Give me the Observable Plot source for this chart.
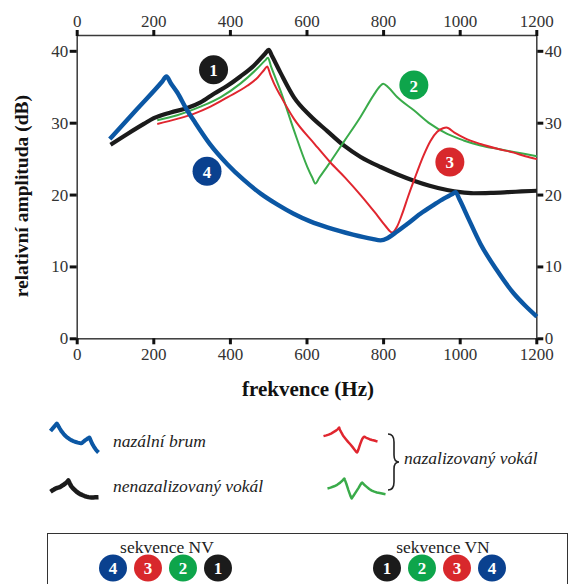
<!DOCTYPE html>
<html>
<head>
<meta charset="utf-8">
<script src="https://cdn.jsdelivr.net/npm/d3@7"></script>
<script src="https://cdn.jsdelivr.net/npm/@observablehq/plot@0.6"></script>
<style>
  html, body { margin: 0; padding: 0; background: #fff; overflow: hidden; }
  #page { position: relative; width: 573px; height: 584px; font-family: "Liberation Serif", "Times New Roman", serif; color: #222; }
  #page svg, #page svg text { font-family: "Liberation Serif", "Times New Roman", serif !important; }
  .abs { position: absolute; }
  .legend-text { font-style: italic; font-size: 17.5px; color: #222; white-space: nowrap; line-height: 1; }
  #seqbox { position: absolute; left: 47px; top: 533px; width: 521px; height: 70px; border: 1.5px solid #333; box-sizing: border-box; }
  .seq-title { position: absolute; font-size: 17.5px; color: #222; transform: translateX(-50%); white-space: nowrap; line-height: 1; }
  .badge { position: absolute; width: 28px; height: 27px; border-radius: 50%; color: #fff; font-weight: bold; font-size: 17px; line-height: 27px; text-align: center; transform: translate(-50%, -50%); }
</style>
</head>
<body>
<div id="page"></div>
<script>
// Spectral envelopes: [frequency (Hz), relative amplitude (dB)]
const nasalMurmur = [
  [85, 27.8], [157, 32.0], [222, 35.8], [233, 36.5], [244, 35.6], [261, 34.3],
  [287, 31.8], [304, 30.4], [345, 27.2], [392, 24.3], [435, 22.1], [479, 20.2],
  [522, 18.7], [565, 17.4], [610, 16.3], [653, 15.5], [720, 14.5], [770, 13.9],
  [792, 13.7], [810, 14.0], [827, 14.6], [860, 15.9], [896, 17.4], [930, 18.6],
  [957, 19.5], [978, 20.1], [988, 20.4], [998, 19.4], [1020, 16.9], [1053, 13.2],
  [1095, 9.6], [1140, 6.3], [1170, 4.6], [1200, 3.1]
];
const nonNasalVowel = [
  [87, 27.0], [131, 28.5], [174, 29.9], [200, 30.7], [244, 31.5], [287, 32.1],
  [322, 32.9], [357, 34.1], [392, 35.2], [426, 36.5], [461, 38.0], [491, 39.7],
  [500, 40.2], [509, 39.3], [531, 37.0], [566, 33.6], [609, 31.0], [653, 28.9],
  [696, 26.9], [740, 25.3], [792, 23.9], [835, 22.9], [879, 22.0], [920, 21.3],
  [966, 20.7], [1000, 20.4], [1035, 20.25], [1080, 20.3], [1123, 20.4],
  [1160, 20.5], [1200, 20.6]
];
const nasalVowelA = [
  [209, 29.9], [261, 30.6], [304, 31.3], [348, 32.3], [392, 33.6], [444, 35.2],
  [472, 36.4], [488, 37.4], [496, 37.9], [504, 36.8], [515, 35.4], [531, 33.8],
  [566, 30.6], [620, 27.1], [660, 24.6], [700, 22.4], [740, 20.0], [780, 17.4],
  [805, 15.7], [822, 14.8], [835, 15.6], [848, 17.3], [864, 19.8], [879, 22.0],
  [905, 25.6], [922, 27.5], [940, 28.8], [955, 29.3], [964, 29.4], [985, 28.7],
  [1009, 28.0], [1053, 27.1], [1100, 26.4], [1140, 25.9], [1170, 25.4], [1200, 25.0]
];
const nasalVowelB = [
  [209, 30.4], [261, 31.1], [322, 32.3], [374, 33.6], [426, 35.5], [470, 37.6],
  [490, 38.7], [498, 39.1], [506, 37.9], [531, 34.5], [566, 29.0], [601, 23.9],
  [614, 22.4], [622, 21.6], [632, 22.4], [653, 24.0], [696, 27.4], [740, 30.9],
  [774, 33.9], [790, 35.1], [799, 35.5], [812, 35.0], [836, 33.6], [879, 31.8],
  [922, 29.9], [966, 28.5], [1009, 27.6], [1053, 26.9], [1100, 26.4], [1140, 26.0],
  [1200, 25.4]
];

const freqTicks = [0, 200, 400, 600, 800, 1000, 1200];
const dbTicks = [0, 10, 20, 30, 40];

const colors = {
  murmur: "#0b57a4",
  nonNasal: "#1b1b1b",
  nasalA: "#e0262f",
  nasalB: "#3aab4a"
};
const badgeColors = { "1": "#1b1b1b", "2": "#0ea54b", "3": "#d8282c", "4": "#0a418f" };

// Numbered callouts placed next to each curve
const calloutNumbers = ["1", "2", "3", "4"];
const calloutHz = [356, 879, 973, 339];
const calloutDb = [37.45, 35.3, 24.6, 23.3];
const callouts = calloutNumbers.map((n, i) => ({ n, hz: calloutHz[i], db: calloutDb[i] }));

// Sequence orders shown in the box below
const sequenceNV = ["4", "3", "2", "1"];
const sequenceVN = ["1", "2", "3", "4"];

const page = document.getElementById("page");
const serif = "'Liberation Serif', 'Times New Roman', serif";
const plain = d => String(d);

const lineOpts = (stroke, w) => ({ stroke, strokeWidth: w, strokeLinejoin: "round", strokeLinecap: "butt", curve: "monotone-x" });

const chart = Plot.plot({
  width: 573,
  height: 408,
  marginLeft: 76.7,
  marginRight: 36.7,
  marginTop: 35,
  marginBottom: 69.7,
  x: { domain: [0, 1200] },
  y: { domain: [0, 42.2] },
  style: { fontFamily: serif, fontSize: "17px", background: "transparent", color: "#333" },
  marks: [
    Plot.frame({ stroke: "#3a3a3a", strokeWidth: 1.5 }),
    Plot.axisX({ anchor: "bottom", ticks: freqTicks, tickFormat: plain, tickSize: 6, tickPadding: 3.5, stroke: "#111", strokeWidth: 3, color: "#333", fontSize: 17, label: null }),
    Plot.axisX({ anchor: "top", ticks: freqTicks, tickFormat: plain, tickSize: 6, tickPadding: 3, stroke: "#111", strokeWidth: 3, color: "#333", fontSize: 17, label: null }),
    Plot.axisY({ anchor: "left", ticks: dbTicks, tickFormat: plain, tickSize: 7, tickPadding: 2, stroke: "#111", strokeWidth: 3, color: "#333", fontSize: 17, label: null }),
    Plot.axisY({ anchor: "right", ticks: dbTicks, tickFormat: plain, tickSize: 6, tickPadding: 2, stroke: "#111", strokeWidth: 3, color: "#333", fontSize: 17, label: null }),
    Plot.text(["relativní amplituda (dB)"], { frameAnchor: "left", rotate: -90, dx: -55, dy: 9, textAnchor: "middle", lineAnchor: "middle", fontWeight: "bold", fontSize: 19.5, fill: "#111" }),
    Plot.text(["frekvence (Hz)"], { frameAnchor: "bottom", dy: 50, dx: 1, textAnchor: "middle", lineAnchor: "middle", fontWeight: "bold", fontSize: 21, fill: "#111" }),
    Plot.line(nonNasalVowel, lineOpts(colors.nonNasal, 4.2)),
    Plot.line(nasalVowelB, lineOpts(colors.nasalB, 2)),
    Plot.line(nasalVowelA, lineOpts(colors.nasalA, 2)),
    Plot.line(nasalMurmur, lineOpts(colors.murmur, 4.4)),
    Plot.dot(callouts, { x: "hz", y: "db", r: 14.5, fill: d => badgeColors[d.n], stroke: null }),
    Plot.text(callouts, { x: "hz", y: "db", text: "n", fill: "white", fontWeight: "bold", fontSize: 17, dy: 1 })
  ]
});
chart.style.position = "absolute";
chart.style.left = "0px";
chart.style.top = "0px";
page.appendChild(chart);

// Miniature line glyphs for the legend, drawn from the same envelopes
function glyph(data, stroke, w, left, top, width, height) {
  const g = Plot.plot({
    width, height, margin: 3,
    x: { axis: null }, y: { axis: null },
    style: { background: "transparent" },
    marks: [Plot.line(data, { ...lineOpts(stroke, w), curve: "linear" })]
  });
  g.style.position = "absolute";
  g.style.left = left + "px";
  g.style.top = top + "px";
  page.appendChild(g);
}
glyph(nasalMurmur, colors.murmur, 4, 47, 420, 54, 35);
glyph(nonNasalVowel, colors.nonNasal, 4.5, 47, 477, 54, 23);
glyph(nasalVowelA, colors.nasalA, 2.5, 320, 424, 60, 31);
glyph(nasalVowelB, colors.nasalB, 2.5, 324, 475, 64, 26);

function addText(txt, cls, left, top) {
  const d = document.createElement("div");
  d.className = "abs " + cls;
  d.textContent = txt;
  d.style.left = left + "px";
  d.style.top = top + "px";
  page.appendChild(d);
  return d;
}
addText("nazální brum", "legend-text", 113, 433);
addText("nenazalizovaný vokál", "legend-text", 113, 478);
addText("nazalizovaný vokál", "legend-text", 404, 450);

// Curly brace grouping the two nasalized-vowel glyphs
const ns = "http://www.w3.org/2000/svg";
const brace = document.createElementNS(ns, "svg");
brace.setAttribute("width", 16);
brace.setAttribute("height", 60);
brace.style.position = "absolute";
brace.style.left = "386px";
brace.style.top = "432px";
const bp = document.createElementNS(ns, "path");
bp.setAttribute("d", "M2 2 Q8 2 8 10 L8 23 Q8 30 13 30 Q8 30 8 37 L8 50 Q8 58 2 58");
bp.setAttribute("fill", "none");
bp.setAttribute("stroke", "#222");
bp.setAttribute("stroke-width", "1.6");
brace.appendChild(bp);
page.appendChild(brace);

// Sequence box
const box = document.createElement("div");
box.id = "seqbox";
page.appendChild(box);

function sequence(title, order, cx, x0) {
  const t = document.createElement("div");
  t.className = "seq-title";
  t.textContent = title;
  t.style.left = cx + "px";
  t.style.top = "539px";
  page.appendChild(t);
  order.forEach((n, i) => {
    const b = document.createElement("div");
    b.className = "badge";
    b.textContent = n;
    b.style.background = badgeColors[n];
    b.style.left = (x0 + i * 35) + "px";
    b.style.top = "568px";
    page.appendChild(b);
  });
}
sequence("sekvence NV", sequenceNV, 167, 113);
sequence("sekvence VN", sequenceVN, 443, 387);
</script>
</body>
</html>
